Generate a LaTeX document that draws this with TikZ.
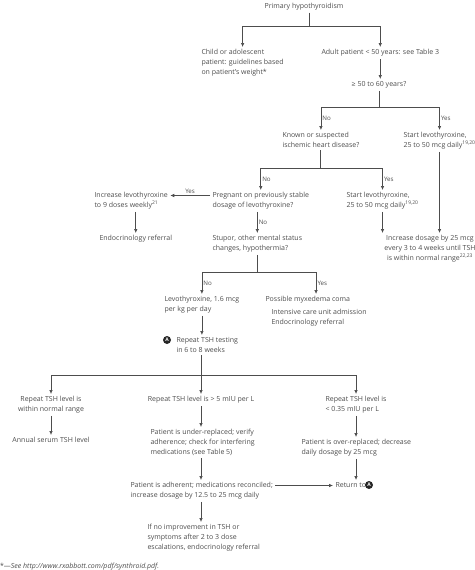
\documentclass[tikz,border=0pt]{standalone}
\usepackage{fontspec}
\setmainfont{Open Sans}
\usetikzlibrary{positioning, arrows.meta}
\definecolor{ink}{HTML}{4D4D4D}

\begin{document}
\begin{tikzpicture}[x=1pt, y=-1pt,
every node/.style = {inner sep=0pt, outer sep=2.5pt, text=ink, font=\fontsize{7}{9.8}\selectfont},
         txt/.style = {align=left, anchor=north west},
        ctxt/.style = {align=center, anchor=north},
          yn/.style = {right, pos=0.75, outer sep=1.5pt, font=\fontsize{6.2}{7}\selectfont},
        line/.style = {draw=ink, line width=0.7pt},
         arr/.style = {line, -{Latex[length=4pt, width=3.6pt]}},
    circmark/.style = {circle, fill=black!85, text=white, minimum size=8pt, outer sep=0pt,
                       font=\fontsize{5}{6}\selectfont\bfseries}
                        ]
\useasboundingbox (0,0) rectangle (474,570);
% decision nodes
\node (title)  [ctxt] at (304,0.5) {Primary hypothyroidism};
\node (child)  [txt] at (199,47) {Child or adolescent\\patient: guidelines based\\on patient's weight*};
\node (adult)  [txt] at (319,47) {Adult patient < 50 years: see Table 3};
\node (age)    [ctxt] at (379,79) {≥ 50 to 60 years?};
\node (ihd)    [txt] at (280,130) {Known or suspected\\ischemic heart disease?};
\node (startA) [txt] at (401,130) {Start levothyroxine,\\25 to 50 mcg daily\textsuperscript{19,20}};
\node (preg)   [txt] at (210,190) {Pregnant on previously stable\\dosage of levothyroxine?};
\node (startB) [txt] at (344,190) {Start levothyroxine,\\25 to 50 mcg daily\textsuperscript{19,20}};
\node (weekly) [txt] at (92,190) {Increase levothyroxine\\to 9 doses weekly\textsuperscript{21}};
\node (endoA)  [txt] at (97,233) {Endocrinology referral};
\node (incr)   [ctxt] at (430,233) {Increase dosage by 25 mcg\\every 3 to 4 weeks until TSH\\is within normal range\textsuperscript{22,23}};
\node (stupor) [txt] at (210,233) {Stupor, other mental status\\changes, hypothermia?};
\node (levo)   [txt] at (162,294) {Levothyroxine, 1.6 mcg\\per kg per day};
\node (coma)   [txt] at (263,294) {Possible myxedema coma\\[2.5pt]\hspace{6pt}Intensive care unit admission\\[1pt]\hspace{6pt}Endocrinology referral};
\node (retest) [txt] at (174,335) {Repeat TSH testing\\in 6 to 8 weeks};
\node (markA)  [circmark] at (167,340) {A};
% results of repeat testing
\node (tshok)  [ctxt] at (51,394) {Repeat TSH level is\\within normal range};
\node (tshhi)  [ctxt] at (201,394) {Repeat TSH level is > 5 mIU per L};
\node (tshlo)  [txt] at (323,394) {Repeat TSH level is\\< 0.35 mIU per L};
\node (annual) [ctxt] at (51,435) {Annual serum TSH level};
\node (under)  [txt] at (148,427) {Patient is under-replaced; verify\\adherence; check for interfering\\medications (see Table 5)};
\node (over)   [txt] at (299,437) {Patient is over-replaced; decrease\\daily dosage by 25 mcg};
\node (adher)  [txt] at (128,480) {Patient is adherent; medications reconciled;\\increase dosage by 12.5 to 25 mcg daily};
\node (back)   [txt] at (333,480) {Return to};
\node (markB)  [circmark] at (369,485) {A};
\node (noimp)  [txt] at (145,522) {If no improvement in TSH or\\symptoms after 2 to 3 dose\\escalations, endocrinology referral};
\node (note)   [txt] at (-2.5,561) {*---\textit{See http://www.rxabbott.com/pdf/synthroid.pdf.}};
% junctions
\coordinate (j0) at (309,26);
\coordinate (j1) at (379,107);
\coordinate (j2) at (320,168);
\coordinate (j3) at (257,272);
\coordinate (j4) at (201,375);
\coordinate (pregL) at ([yshift=-5.5pt]preg.north west);
\coordinate (adhR)  at ([yshift=-5.5pt]adher.north east);
% connectors
\draw[line] (title.south -| j0) -- (j0);
\draw[arr] (j0) -| (child.north);
\draw[arr] (j0) -| (adult.north);
\draw[arr] (adult.south) -- (adult.south |- age.north);
\draw[line] (age.south) -- (age.south |- j1);
\draw[arr] (j1) -| node[yn]{No} (ihd.north);
\draw[arr] (j1) -| node[yn]{Yes} (startA.north);
\draw[line] (ihd.south -| j2) -- (j2);
\draw[arr] (j2) -| node[yn]{No} (preg.north);
\draw[arr] (j2) -| node[yn]{Yes} (startB.north);
\draw[arr] (pregL) -- node[above, outer sep=1.5pt, font=\fontsize{6.2}{7}\selectfont]{Yes} (pregL -| weekly.east);
\draw[arr] (weekly.south -| endoA.north) -- (endoA.north);
\draw[arr] (preg.south -| stupor.north) -- node[yn, pos=0.5]{No} (stupor.north);
\draw[arr] (startB.south) -- (startB.south |- incr.north);
\draw[arr] (startA.south) -- (startA.south |- incr.north);
\draw[line] (stupor.south -| j3) -- (j3);
\draw[arr] (j3) -| node[yn]{No} (levo.north);
\draw[arr] (j3) -| node[yn]{Yes} (coma.north);
\draw[arr] (levo.south) -- (levo.south |- retest.north);
\draw[line] (retest.south -| j4) -- (j4);
\draw[arr] (j4) -| (tshok.north);
\draw[arr] (j4) -- (tshhi.north);
\draw[arr] (j4) -| (tshlo.north);
\draw[arr] (tshok.south) -- (annual.north);
\draw[arr] (tshhi.south) -- (tshhi.south |- under.north);
\draw[arr] (tshlo.south) -- (tshlo.south |- over.north);
\draw[arr] (under.south -| tshhi.south) -- (tshhi.south |- adher.north);
\draw[arr] (over.south -| tshlo.south) -- (tshlo.south |- back.north);
\draw[arr] (adhR) -- (adhR -| back.west);
\draw[arr] (adher.south -| tshhi.south) -- (tshhi.south |- noimp.north);
\end{tikzpicture}
\end{document}
